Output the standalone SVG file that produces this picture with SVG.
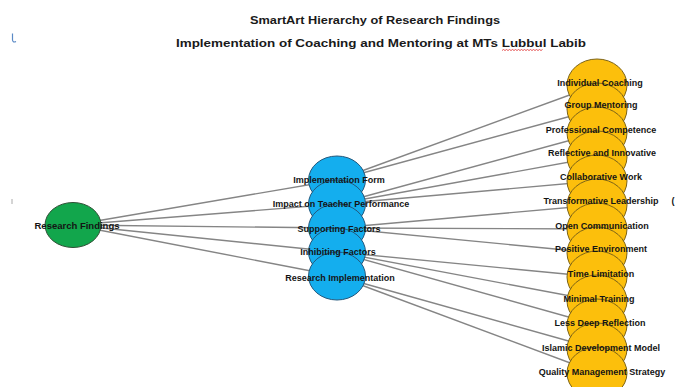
<svg xmlns="http://www.w3.org/2000/svg" width="675" height="387" viewBox="0 0 675 387">
<style>
.title{font-family:"Liberation Sans",Arial,sans-serif;font-weight:bold;font-size:11.5px;fill:#1a1a1a;text-anchor:middle}
.lbl{font-family:"Liberation Sans",Arial,sans-serif;font-weight:bold;font-size:9px;fill:#141414;text-anchor:middle}
.con{stroke:#858585;stroke-width:1.4;fill:none}
.root{fill:#12a64c;stroke:#2f4f35;stroke-width:1}
.mid{fill:#14aeee;stroke:#24587c;stroke-width:1}
.leaf{fill:#fcbf0c;stroke:#7d6418;stroke-width:1}
</style>
<rect width="675" height="387" fill="#ffffff"/>
<g id="titles">
<text class="title" x="375" y="24" textLength="250" lengthAdjust="spacingAndGlyphs">SmartArt Hierarchy of Research Findings</text>
<text class="title" x="381" y="47" textLength="410" lengthAdjust="spacingAndGlyphs">Implementation of Coaching and Mentoring at MTs Lubbul Labib</text>
<path d="M502,50.5 l1.5,-1 l1.5,1 l1.5,-1 l1.5,1 l1.5,-1 l1.5,1 l1.5,-1 l1.5,1 l1.5,-1 l1.5,1 l1.5,-1 l1.5,1 l1.5,-1 l1.5,1 l1.5,-1 l1.5,1 l1.5,-1 l1.5,1 l1.5,-1 l1.5,1 l1.5,-1 l1.5,1 l1.5,-1 l1.5,1 l1.5,-1 l1.5,1 l1.5,-1" fill="none" stroke="#e03030" stroke-width="0.8"/>
</g>
<g id="marks">
<path d="M12.5,33.5 L12.5,40 Q13,43 16,41.5" fill="none" stroke="#5b8ac6" stroke-width="1.2"/>
<line x1="12" y1="199" x2="12" y2="204" stroke="#aaaaaa" stroke-width="1"/>
</g>
<g id="connectors">
<line class="con" x1="73" y1="225" x2="337" y2="180"/>
<line class="con" x1="73" y1="225" x2="337" y2="204"/>
<line class="con" x1="73" y1="225" x2="337" y2="228"/>
<line class="con" x1="73" y1="225" x2="337" y2="252"/>
<line class="con" x1="73" y1="225" x2="337" y2="276"/>
<line class="con" x1="337" y1="180" x2="597" y2="85"/>
<line class="con" x1="337" y1="180" x2="597" y2="109"/>
<line class="con" x1="337" y1="204" x2="597" y2="133"/>
<line class="con" x1="337" y1="204" x2="597" y2="157"/>
<line class="con" x1="337" y1="204" x2="597" y2="181"/>
<line class="con" x1="337" y1="228" x2="597" y2="205"/>
<line class="con" x1="337" y1="228" x2="597" y2="229"/>
<line class="con" x1="337" y1="228" x2="597" y2="253"/>
<line class="con" x1="337" y1="252" x2="597" y2="277"/>
<line class="con" x1="337" y1="252" x2="597" y2="301"/>
<line class="con" x1="337" y1="252" x2="597" y2="325"/>
<line class="con" x1="337" y1="276" x2="597" y2="349"/>
<line class="con" x1="337" y1="276" x2="597" y2="373"/>
</g>
<g id="nodes">
<g id="node-research-findings"><ellipse class="root" cx="73" cy="225" rx="28" ry="22.5"/></g>
<g id="node-implementation-form"><ellipse class="mid" cx="337" cy="180" rx="28.5" ry="24"/></g>
<g id="node-impact"><ellipse class="mid" cx="337" cy="204" rx="28.5" ry="24"/></g>
<g id="node-supporting"><ellipse class="mid" cx="337" cy="228" rx="28.5" ry="24"/></g>
<g id="node-inhibiting"><ellipse class="mid" cx="337" cy="252" rx="28.5" ry="24"/></g>
<g id="node-research-impl"><ellipse class="mid" cx="337" cy="276" rx="28.5" ry="24"/></g>
<g id="node-individual-coaching"><ellipse class="leaf" cx="597" cy="85" rx="30" ry="26"/></g>
<g id="node-group-mentoring"><ellipse class="leaf" cx="597" cy="109" rx="30" ry="26"/></g>
<g id="node-professional-competence"><ellipse class="leaf" cx="597" cy="133" rx="30" ry="26"/></g>
<g id="node-reflective-innovative"><ellipse class="leaf" cx="597" cy="157" rx="30" ry="26"/></g>
<g id="node-collaborative-work"><ellipse class="leaf" cx="597" cy="181" rx="30" ry="26"/></g>
<g id="node-transformative-leadership"><ellipse class="leaf" cx="597" cy="205" rx="30" ry="26"/></g>
<g id="node-open-communication"><ellipse class="leaf" cx="597" cy="229" rx="30" ry="26"/></g>
<g id="node-positive-environment"><ellipse class="leaf" cx="597" cy="253" rx="30" ry="26"/></g>
<g id="node-time-limitation"><ellipse class="leaf" cx="597" cy="277" rx="30" ry="26"/></g>
<g id="node-minimal-training"><ellipse class="leaf" cx="597" cy="301" rx="30" ry="26"/></g>
<g id="node-less-deep-reflection"><ellipse class="leaf" cx="597" cy="325" rx="30" ry="26"/></g>
<g id="node-islamic-development"><ellipse class="leaf" cx="597" cy="349" rx="30" ry="26"/></g>
<g id="node-quality-management"><ellipse class="leaf" cx="597" cy="373" rx="30" ry="26"/></g>
</g>
<g id="labels">
<text class="lbl" x="77" y="228.5" style="font-size:9.5px">Research Findings</text>
<text class="lbl" x="339" y="182.5">Implementation Form</text>
<text class="lbl" x="341" y="206.5">Impact on Teacher Performance</text>
<text class="lbl" x="339" y="231.5">Supporting Factors</text>
<text class="lbl" x="338" y="254.5">Inhibiting Factors</text>
<text class="lbl" x="340" y="280.5">Research Implementation</text>
<text class="lbl" x="600" y="85.5">Individual Coaching</text>
<text class="lbl" x="601" y="107.5">Group Mentoring</text>
<text class="lbl" x="601" y="132.5">Professional Competence</text>
<text class="lbl" x="602" y="155.5">Reflective and Innovative</text>
<text class="lbl" x="601" y="179.5">Collaborative Work</text>
<text class="lbl" x="601" y="203.5">Transformative Leadership</text>
<text class="lbl" x="602" y="228.5">Open Communication</text>
<text class="lbl" x="601" y="251.5">Positive Environment</text>
<text class="lbl" x="601" y="276.5">Time Limitation</text>
<text class="lbl" x="599" y="301.5">Minimal Training</text>
<text class="lbl" x="600" y="325.5">Less Deep Reflection</text>
<text class="lbl" x="601" y="350.5">Islamic Development Model</text>
<text class="lbl" x="602" y="374.5">Quality Management Strategy</text>
<text class="lbl" x="673" y="203.5">(</text>
</g>
</svg>
